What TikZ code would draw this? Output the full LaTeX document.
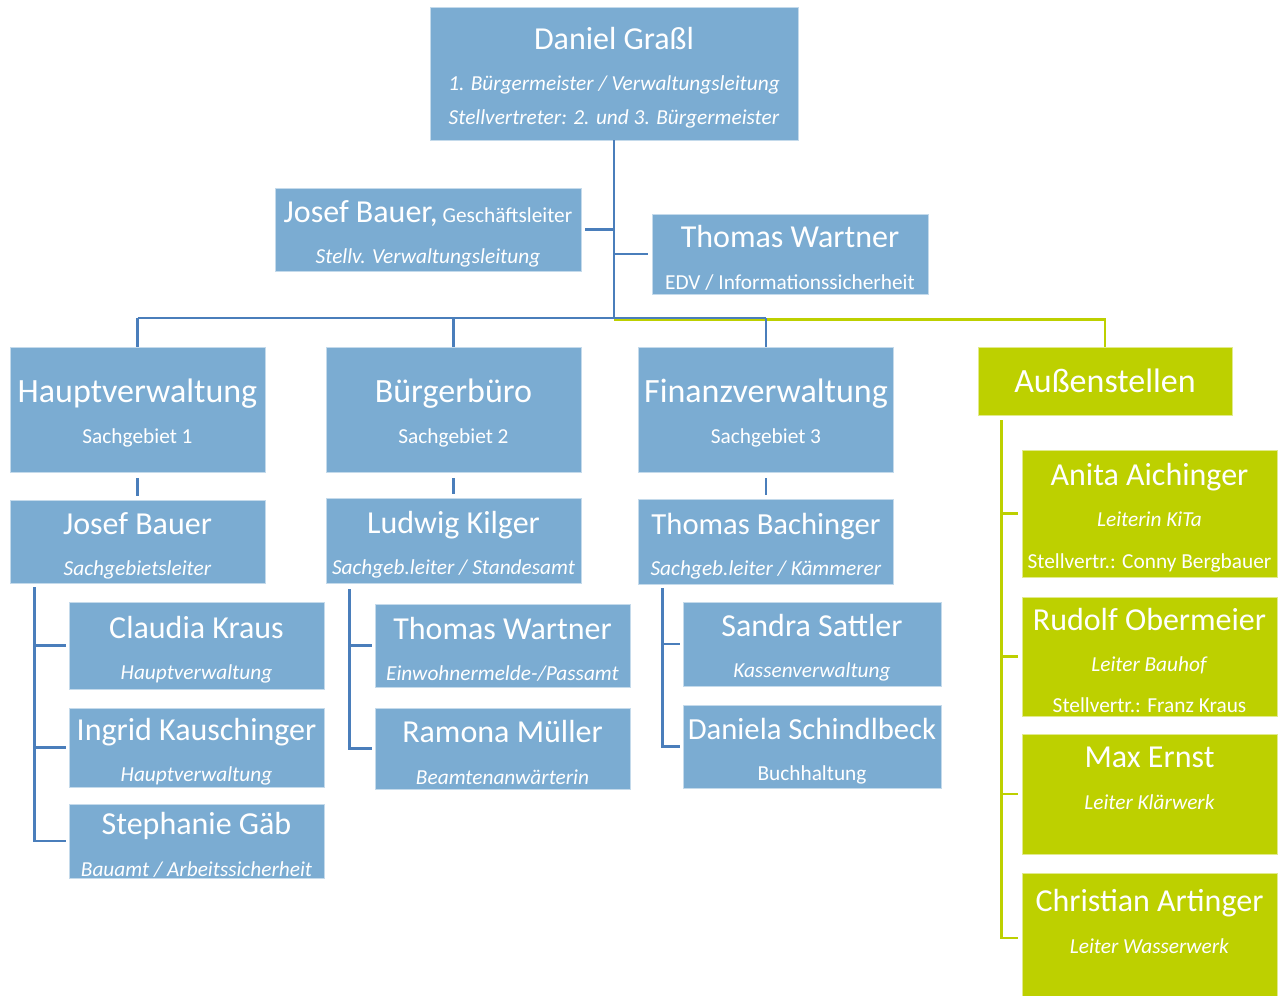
\documentclass[tikz,border=0pt]{standalone}
\usepackage{fontspec}
\setmainfont{Carlito}
\usepackage{tikz}
\usetikzlibrary{positioning,calc}

\definecolor{boxblue}{RGB}{123,172,210}
\definecolor{lineblue}{RGB}{74,126,187}
\definecolor{limegreen}{RGB}{189,208,0}

\newcommand{\persname}[1]{{\fontsize{24}{31}\selectfont\rule{0pt}{22.5pt}#1}}
\newcommand{\narrowname}[1]{{\fontsize{23}{31}\selectfont\rule{0pt}{22.5pt}#1}}
\newcommand{\unitname}[1]{{\fontsize{25.5}{31}\selectfont\rule{0pt}{23pt}#1}}

\begin{document}
\begin{tikzpicture}[
  x=0.75pt, y=-0.75pt,
  box/.style={rectangle, fill=boxblue, draw=white!55!boxblue,
    line width=0.6pt, text=white, align=center, inner sep=0pt,
    minimum width=191.25pt, font=\fontsize{16}{31}\selectfont},
  gbox/.style={box, fill=limegreen, draw=white!55!limegreen},
  link/.style={draw=lineblue, line width=2.2pt},
  glink/.style={draw=limegreen, line width=2.2pt},
]
  \useasboundingbox (0,0) rectangle (1282,996);
  % Leitung
  \node[box, minimum width=276pt, minimum height=99.75pt] (top) at (614,73.5)
    {\persname{Daniel Graßl}\\\textit{1. Bürgermeister / Verwaltungsleitung}\\[-6pt]
     \textit{Stellvertreter: 2. und 3. Bürgermeister}};
  \node[box, minimum width=229.5pt, minimum height=62.25pt] (gl) at (428,229.5)
    {\persname{Josef Bauer,} Geschäftsleiter\\\textit{Stellv. Verwaltungsleitung}};
  \node[box, minimum width=207pt, minimum height=60pt] (edv) at (790,254)
    {\persname{Thomas Wartner}\\EDV / Informationssicherheit};
  % Sachgebiete
  \node[box, minimum height=93.75pt] (hv) at (137.5,409.5)
    {\unitname{Hauptverwaltung}\\Sachgebiet 1};
  \node[box, minimum height=93.75pt] (bb) at (453.5,409.5)
    {\unitname{Bürgerbüro}\\Sachgebiet 2};
  \node[box, minimum height=93.75pt] (fv) at (766,409.5)
    {\unitname{Finanzverwaltung}\\Sachgebiet 3};
  \node[gbox, minimum width=190.5pt, minimum height=51pt] (ast) at (1105,381)
    {{\fontsize{25.5}{31}\selectfont Außenstellen}};
  % Sachgebietsleiter
  \node[box, minimum height=62.25pt] (jb) at (137.5,541.5)
    {\persname{Josef Bauer}\\\textit{Sachgebietsleiter}};
  \node[box, minimum height=63.75pt] (lk) at (453.5,540.5)
    {\persname{Ludwig Kilger}\\\textit{Sachgeb.leiter / Standesamt}};
  \node[box, minimum height=63.75pt] (tb) at (766,541.5)
    {\narrowname{Thomas Bachinger}\\\textit{Sachgeb.leiter / Kämmerer}};
  % Mitarbeiter Hauptverwaltung
  \node[box, minimum height=65.25pt] (ck) at (196.5,645.5)
    {\persname{Claudia Kraus}\\\textit{Hauptverwaltung}};
  \node[box, minimum height=59.25pt] (ik) at (196.5,747.5)
    {\persname{Ingrid Kauschinger}\\\textit{Hauptverwaltung}};
  \node[box, minimum height=55.5pt] (sg) at (196.5,841)
    {\persname{Stephanie Gäb}\\\textit{Bauamt / Arbeitssicherheit}};
  % Mitarbeiter Buergerbuero
  \node[box, minimum height=62.25pt] (tw) at (502.5,645.5)
    {\persname{Thomas Wartner}\\\textit{Einwohnermelde-/Passamt}};
  \node[box, minimum height=60.75pt] (rm) at (502.5,748.5)
    {\persname{Ramona Müller}\\\textit{Beamtenanwärterin}};
  % Mitarbeiter Finanzverwaltung
  \node[box, minimum width=193.5pt, minimum height=63pt] (ss) at (812,644)
    {\persname{Sandra Sattler}\\\textit{Kassenverwaltung}};
  \node[box, minimum width=193.5pt, minimum height=62.25pt] (ds) at (812,746.5)
    {\narrowname{Daniela Schindlbeck}\\Buchhaltung};
  % Aussenstellen
  \node[gbox, minimum height=95.25pt] (aa) at (1149.5,513.5)
    {\persname{Anita Aichinger}\\\textit{Leiterin KiTa}\\Stellvertr.: Conny Bergbauer};
  \node[gbox, minimum height=89.25pt] (ro) at (1149.5,656.5)
    {\persname{Rudolf Obermeier}\\\textit{Leiter Bauhof}\\Stellvertr.: Franz Kraus};
  \node[gbox, minimum height=90pt] (me) at (1149.5,794)
    {\persname{Max Ernst}\\\textit{Leiter Klärwerk}\\~};
  \node[gbox, minimum height=97.5pt] (ca) at (1149.5,938)
    {\persname{Christian Artinger}\\\textit{Leiter Wasserwerk}\\~};

  % Stamm
  \coordinate (bus) at (614,318);
  \draw[link] (top.south) -- (bus);
  \draw[link] ($(gl.east)+(4,0)$) -- (gl.east -| bus);
  \draw[link] (edv.west -| bus) -- ($(edv.west)+(-4,0)$);
  % Verteiler
  \draw[glink] ($(bus)+(0,1.5)$) -| (ast.north);
  \draw[link] (hv.north |- bus) -- (fv.north |- bus);
  \draw[link] (hv.north |- bus) -- (hv.north);
  \draw[link] (bb.north |- bus) -- (bb.north);
  \draw[link] (fv.north |- bus) -- (fv.north);
  \draw[link, shorten <=4.5pt, shorten >=3pt] (hv.south) -- (jb.north);
  \draw[link, shorten <=4.5pt, shorten >=3pt] (bb.south) -- (lk.north);
  \draw[link, shorten <=4.5pt, shorten >=3pt] (fv.south) -- (tb.north);
  % Zweige
  \foreach \kid in {ck,ik,sg}
    \draw[link] ($(jb.south west)+(25,4)$) |- ($(\kid.west)+(-3,0)$);
  \foreach \kid in {tw,rm}
    \draw[link] ($(lk.south west)+(24,6)$) |- ($(\kid.west)+(-3,0)$);
  \foreach \kid in {ss,ds}
    \draw[link] ($(tb.south west)+(24,4)$) |- ($(\kid.west)+(-3,0)$);
  \foreach \kid in {aa,ro,me,ca}
    \draw[glink] ($(ast.south west)+(24,5)$) |- ($(\kid.west)+(-4,0)$);
\end{tikzpicture}
\end{document}
